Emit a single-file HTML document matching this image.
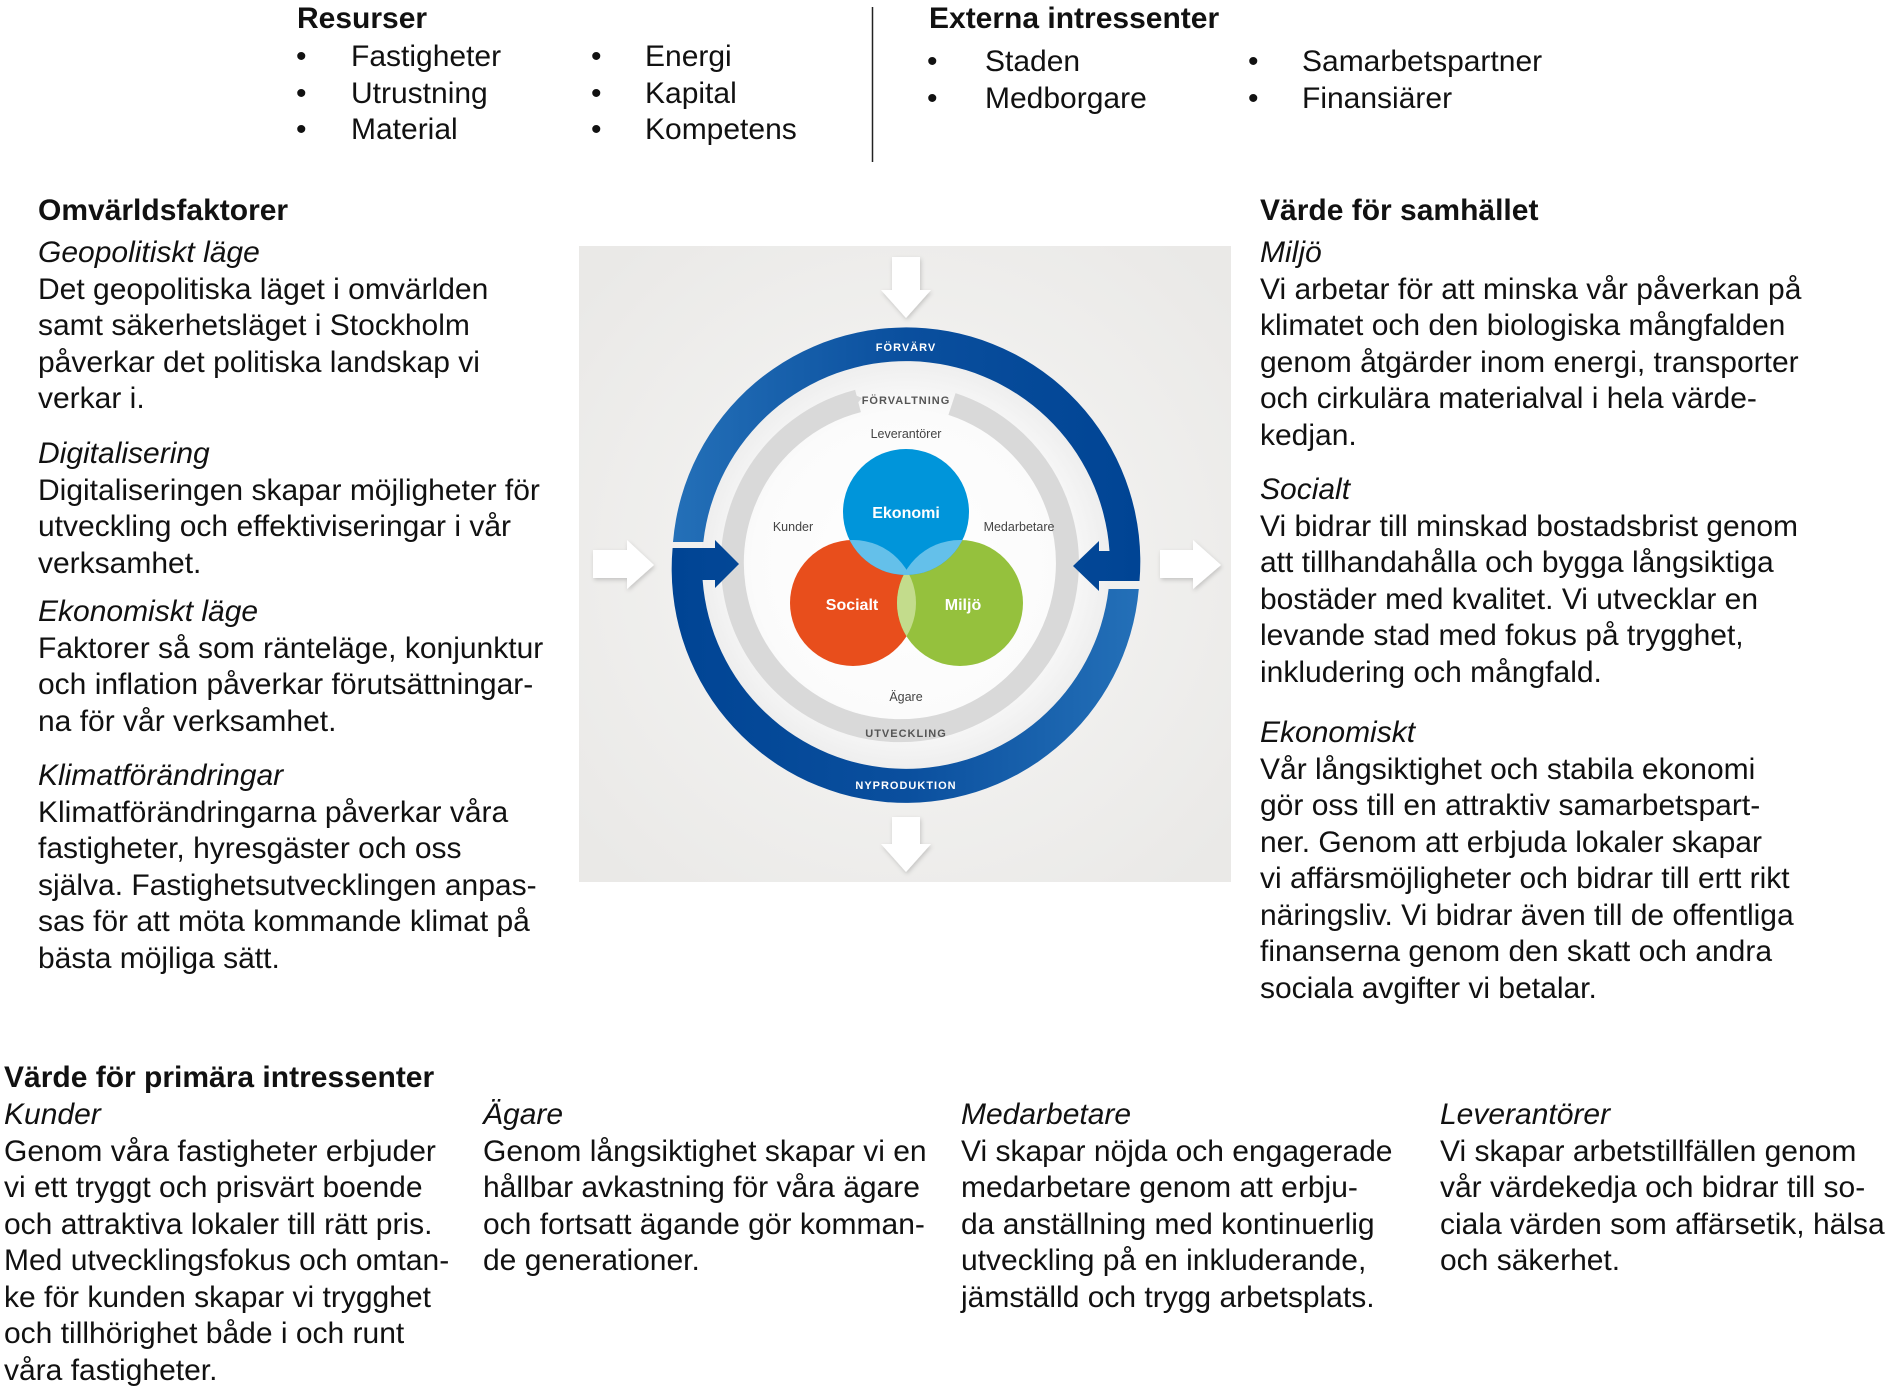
<!DOCTYPE html>
<html><head><meta charset="utf-8">
<style>
html,body{margin:0;padding:0;background:#fff;}
body{width:1900px;height:1394px;position:relative;overflow:hidden;font-family:"Liberation Sans",Arial,sans-serif;color:#111;}
.t{position:absolute;font-size:30px;line-height:36.5px;white-space:nowrap;}
.b{font-weight:bold;}
.i{font-style:italic;}
svg{position:absolute;left:0;top:0;}
</style></head><body>

<svg width="1900" height="1394" viewBox="0 0 1900 1394">
<defs>
<radialGradient id="pbg" cx="906" cy="565" r="420" gradientUnits="userSpaceOnUse">
<stop offset="0" stop-color="#f7f7f6"/><stop offset="1" stop-color="#eae9e7"/></radialGradient>
<radialGradient id="disk" cx="906" cy="565" r="205" gradientUnits="userSpaceOnUse">
<stop offset="0" stop-color="#ffffff"/><stop offset="0.75" stop-color="#fbfbfb"/><stop offset="1" stop-color="#eeeeee"/></radialGradient>
<linearGradient id="gup" x1="672" y1="0" x2="1140" y2="0" gradientUnits="userSpaceOnUse">
<stop offset="0" stop-color="#2470b8"/><stop offset="0.5" stop-color="#0a4f9e"/><stop offset="1" stop-color="#004494"/></linearGradient>
<linearGradient id="glo" x1="672" y1="0" x2="1140" y2="0" gradientUnits="userSpaceOnUse">
<stop offset="0" stop-color="#004494"/><stop offset="0.5" stop-color="#0a4f9e"/><stop offset="1" stop-color="#2470b8"/></linearGradient>
<clipPath id="cE"><circle cx="906" cy="512" r="63"/></clipPath>
<clipPath id="cS"><circle cx="853" cy="603" r="63"/></clipPath>
<filter id="sh" x="-30%" y="-30%" width="160%" height="160%"><feDropShadow dx="1" dy="2" stdDeviation="2" flood-color="#000" flood-opacity="0.18"/></filter>
</defs>
<rect x="579" y="246" width="652" height="636" fill="url(#pbg)"/>
<circle cx="906" cy="565" r="205" fill="url(#disk)"/>
<!-- gray ring -->
<path d="M 858,401 A 167.5 167.5 0 1 0 952,404" fill="none" stroke="#d9d9d9" stroke-width="23"/>
<polygon points="848,392 862,398 848,414" fill="#d9d9d9"/>
<!-- blue ring -->
<path d="M 673,542 A 234 234 0 1 1 1139.5,581 L 1099,581 L 1099,591 L 1073,566 L 1099,541 L 1099,551 L 1109.5,551 A 204 204 0 0 0 703.3,542 Z" fill="url(#gup)"/>
<path d="M 1138.8,589 A 234 234 0 1 1 672.6,548 L 715,548 L 715,540 L 739,564 L 715,588 L 715,580 L 702.6,580 A 204 204 0 0 0 1108.6,589 Z" fill="url(#glo)"/>
<!-- venn -->
<circle cx="853" cy="603" r="63" fill="#e84e1c"/>
<circle cx="960" cy="603" r="63" fill="#95c13d"/>
<circle cx="906" cy="512" r="63" fill="#0095da"/>
<g clip-path="url(#cS)"><circle cx="960" cy="603" r="63" fill="#c3dc8c"/></g>
<g clip-path="url(#cE)"><circle cx="853" cy="603" r="63" fill="#64c0ea"/><circle cx="960" cy="603" r="63" fill="#64c0ea"/></g>
<!-- white arrows -->
<g fill="#ffffff" filter="url(#sh)">
<polygon points="892,257 920,257 920,290 931,290 906,318 881,290 892,290"/>
<polygon points="892,817 920,817 920,844 931,844 906,872 881,844 892,844"/>
<polygon points="593,550 627,550 627,540 654,565 627,589 627,578 593,578"/>
<polygon points="1160,550 1193,550 1193,540 1221,565 1193,589 1193,578 1160,578"/>
</g>
<!-- labels -->
<g font-family="Liberation Sans, Arial, sans-serif" text-anchor="middle">
<text x="906" y="351" font-size="11" font-weight="bold" fill="#fff" letter-spacing="1">FÖRVÄRV</text>
<text x="906" y="789" font-size="11" font-weight="bold" fill="#fff" letter-spacing="1">NYPRODUKTION</text>
<text x="906" y="404" font-size="11" font-weight="bold" fill="#555" letter-spacing="1">FÖRVALTNING</text>
<text x="906" y="737" font-size="11" font-weight="bold" fill="#555" letter-spacing="1">UTVECKLING</text>
<text x="906" y="438" font-size="12.5" fill="#444">Leverantörer</text>
<text x="793" y="531" font-size="12.5" fill="#444">Kunder</text>
<text x="1019" y="531" font-size="12.5" fill="#444">Medarbetare</text>
<text x="906" y="701" font-size="12.5" fill="#444">Ägare</text>
<text x="906" y="518" font-size="16" font-weight="bold" fill="#fff">Ekonomi</text>
<text x="852" y="610" font-size="16" font-weight="bold" fill="#fff">Socialt</text>
<text x="963" y="610" font-size="16" font-weight="bold" fill="#fff">Miljö</text>
</g>
<line x1="872.5" y1="7" x2="872.5" y2="162" stroke="#222" stroke-width="1.5"/>
</svg>

<!-- top -->
<div class="t b" style="left:297px;top:1px">Resurser</div>
<div class="t" style="left:296px;top:39px">•<br>•<br>•</div>
<div class="t" style="left:351px;top:39px">Fastigheter<br>Utrustning<br>Material</div>
<div class="t" style="left:591px;top:39px">•<br>•<br>•</div>
<div class="t" style="left:645px;top:39px">Energi<br>Kapital<br>Kompetens</div>
<div class="t b" style="left:929px;top:1px">Externa intressenter</div>
<div class="t" style="left:927px;top:44px">•<br>•</div>
<div class="t" style="left:985px;top:44px">Staden<br>Medborgare</div>
<div class="t" style="left:1248px;top:44px">•<br>•</div>
<div class="t" style="left:1302px;top:44px">Samarbetspartner<br>Finansiärer</div>

<!-- left column -->
<div class="t b" style="left:38px;top:193px">Omvärldsfaktorer</div>
<div class="t" style="left:38px;top:235px"><span class="i">Geopolitiskt läge</span><br>Det geopolitiska läget i omvärlden<br>samt säkerhetsläget i Stockholm<br>påverkar det politiska landskap vi<br>verkar i.</div>
<div class="t" style="left:38px;top:436px"><span class="i">Digitalisering</span><br>Digitaliseringen skapar möjligheter för<br>utveckling och effektiviseringar i vår<br>verksamhet.</div>
<div class="t" style="left:38px;top:594px"><span class="i">Ekonomiskt läge</span><br>Faktorer så som ränteläge, konjunktur<br>och inflation påverkar förutsättningar-<br>na för vår verksamhet.</div>
<div class="t" style="left:38px;top:758px"><span class="i">Klimatförändringar</span><br>Klimatförändringarna påverkar våra<br>fastigheter, hyresgäster och oss<br>själva. Fastighetsutvecklingen anpas-<br>sas för att möta kommande klimat på<br>bästa möjliga sätt.</div>

<!-- right column -->
<div class="t b" style="left:1260px;top:193px">Värde för samhället</div>
<div class="t" style="left:1260px;top:235px"><span class="i">Miljö</span><br>Vi arbetar för att minska vår påverkan på<br>klimatet och den biologiska mångfalden<br>genom åtgärder inom energi, transporter<br>och cirkulära materialval i hela värde-<br>kedjan.</div>
<div class="t" style="left:1260px;top:472px"><span class="i">Socialt</span><br>Vi bidrar till minskad bostadsbrist genom<br>att tillhandahålla och bygga långsiktiga<br>bostäder med kvalitet. Vi utvecklar en<br>levande stad med fokus på trygghet,<br>inkludering och mångfald.</div>
<div class="t" style="left:1260px;top:715px"><span class="i">Ekonomiskt</span><br>Vår långsiktighet och stabila ekonomi<br>gör oss till en attraktiv samarbetspart-<br>ner. Genom att erbjuda lokaler skapar<br>vi affärsmöjligheter och bidrar till ertt rikt<br>näringsliv. Vi bidrar även till de offentliga<br>finanserna genom den skatt och andra<br>sociala avgifter vi betalar.</div>

<!-- bottom -->
<div class="t b" style="left:4px;top:1060px">Värde för primära intressenter</div>
<div class="t" style="left:4px;top:1097px"><span class="i">Kunder</span><br>Genom våra fastigheter erbjuder<br>vi ett tryggt och prisvärt boende<br>och attraktiva lokaler till rätt pris.<br>Med utvecklingsfokus och omtan-<br>ke för kunden skapar vi trygghet<br>och tillhörighet både i och runt<br>våra fastigheter.</div>
<div class="t" style="left:483px;top:1097px"><span class="i">Ägare</span><br>Genom långsiktighet skapar vi en<br>hållbar avkastning för våra ägare<br>och fortsatt ägande gör komman-<br>de generationer.</div>
<div class="t" style="left:961px;top:1097px"><span class="i">Medarbetare</span><br>Vi skapar nöjda och engagerade<br>medarbetare genom att erbju-<br>da anställning med kontinuerlig<br>utveckling på en inkluderande,<br>jämställd och trygg arbetsplats.</div>
<div class="t" style="left:1440px;top:1097px"><span class="i">Leverantörer</span><br>Vi skapar arbetstillfällen genom<br>vår värdekedja och bidrar till so-<br>ciala värden som affärsetik, hälsa<br>och säkerhet.</div>

</body></html>
